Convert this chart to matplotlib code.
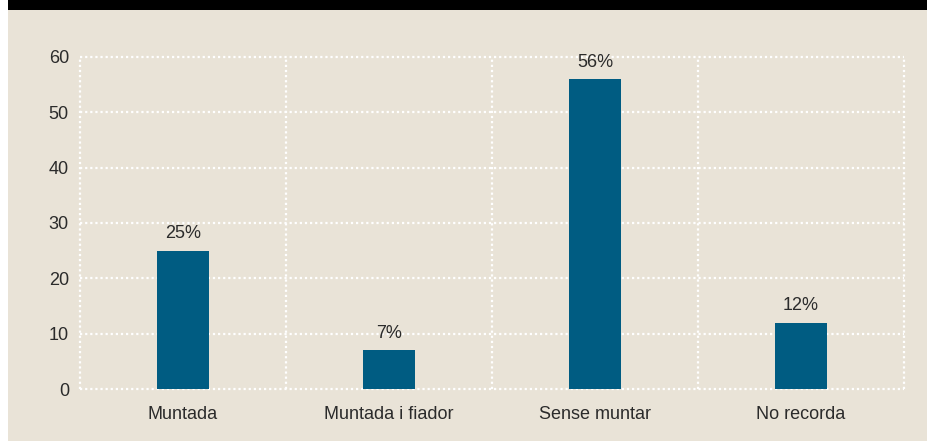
import matplotlib.pyplot as plt
import matplotlib.patches as patches

categories = ['Muntada', 'Muntada i fiador', 'Sense muntar', 'No recorda']
values = [25, 7, 56, 12]
labels = ['25%', '7%', '56%', '12%']
yticks = [0, 10, 20, 30, 40, 50, 60]

bg = '#E9E3D7'
bar_color = '#005C82'
text_color = '#2b2b2b'

plt.rcParams['font.family'] = ['Liberation Sans', 'DejaVu Sans']

fig = plt.figure(figsize=(9.28, 4.41), dpi=100)
fig.patch.set_facecolor(bg)

# white strip on the left edge and black title band on top
fig.patches.append(patches.Rectangle((0, 0), 8 / 928, 1, transform=fig.transFigure,
                                     facecolor='white', edgecolor='none', zorder=0))
fig.patches.append(patches.Rectangle((8 / 928, 1 - 10 / 441), 1, 10 / 441, transform=fig.transFigure,
                                     facecolor='black', edgecolor='none', zorder=0))

ax = fig.add_axes([80 / 928, 52 / 441, 824 / 928, 332 / 441])
ax.set_facecolor(bg)

x = range(len(categories))
ax.bar(x, values, width=0.25, color=bar_color, zorder=3)

for i, v in enumerate(values):
    ax.annotate(labels[i], (i, v), xytext=(0, 6), textcoords='offset points',
                ha='center', va='bottom', fontsize=13, color=text_color)

ax.set_xlim(-0.5, 3.5)
ax.set_ylim(0, 60)
ax.set_yticks(yticks)
ax.set_xticks(list(x))
ax.set_xticklabels(categories)
ax.tick_params(axis='both', length=0, labelsize=13, colors=text_color)
ax.tick_params(axis='y', pad=8)
ax.tick_params(axis='x', pad=12)

dots = (0, (1, 1.3))
for y in yticks:
    ax.axhline(y, color='white', lw=1.6, linestyle=dots, zorder=1, clip_on=False)
for xv in [-0.5, 0.5, 1.5, 2.5, 3.5]:
    ax.axvline(xv, color='white', lw=1.6, linestyle=dots, zorder=1, clip_on=False)

for s in ax.spines.values():
    s.set_visible(False)

plt.savefig('out.png', dpi=100, facecolor=bg)
